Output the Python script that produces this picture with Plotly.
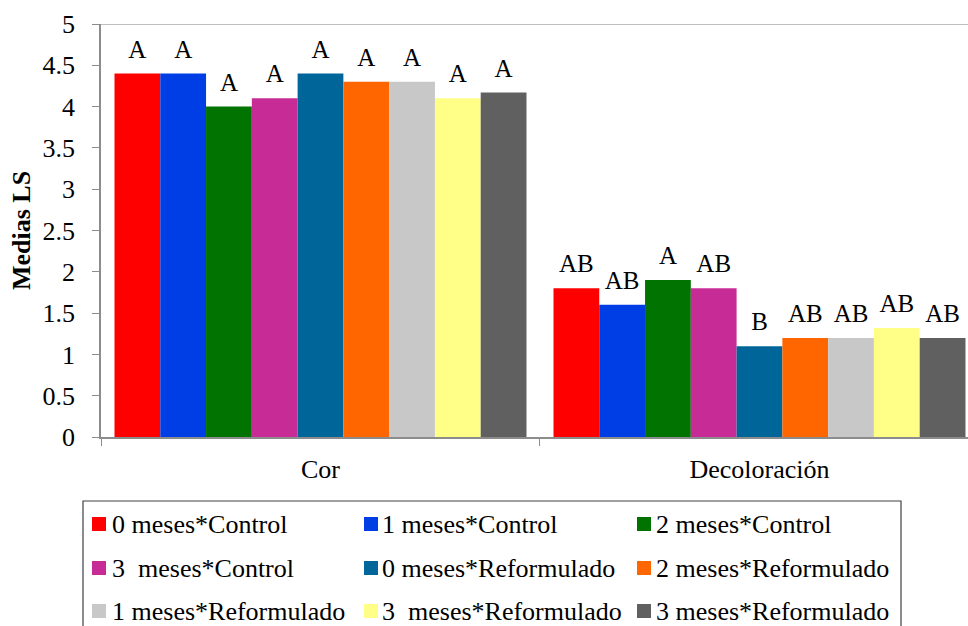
import plotly.graph_objects as go

# ---- data ----
categories = ["Cor", "Decoloración"]
series_names = [
    "0 meses*Control",
    "1 meses*Control",
    "2 meses*Control",
    "3  meses*Control",
    "0 meses*Reformulado",
    "2 meses*Reformulado",
    "1 meses*Reformulado",
    "3  meses*Reformulado",
    "3 meses*Reformulado",
]
series_values = [
    [4.4, 1.8],
    [4.4, 1.6],
    [4.0, 1.9],
    [4.1, 1.8],
    [4.4, 1.1],
    [4.3, 1.2],
    [4.3, 1.2],
    [4.1, 1.32],
    [4.17, 1.2],
]
series_letters = [
    ["A", "AB"],
    ["A", "AB"],
    ["A", "A"],
    ["A", "AB"],
    ["A", "B"],
    ["A", "AB"],
    ["A", "AB"],
    ["A", "AB"],
    ["A", "AB"],
]
series_colors = [
    "#FF0000", "#003EE5", "#007300", "#C72C96", "#006699",
    "#FF6600", "#C8C8C8", "#FFFF88", "#606060",
]
y_tick_vals = [0, 0.5, 1, 1.5, 2, 2.5, 3, 3.5, 4, 4.5, 5]
y_tick_text = ["0", "0.5", "1", "1.5", "2", "2.5", "3", "3.5", "4", "4.5", "5"]

# ---- layout geometry (pixels) ----
W, H = 968, 626
L, R, T, B = 101, 968, 24, 437
FONT = "Liberation Serif"
LABEL_LIFT = 0.095  # blank space (y units) between a bar top and its letter label


def px_x(px):
    return (px - L) / (R - L)


def px_y(py):
    return (B - py) / (B - T)


fig = go.Figure()
for i, (name, vals, letters, color) in enumerate(
        zip(series_names, series_values, series_letters, series_colors)):
    group = f"g{i}"
    fig.add_trace(go.Bar(
        x=categories,
        y=vals,
        name=name,
        offsetgroup=group,
        marker=dict(color=color, line=dict(width=0)),
        showlegend=False,
        hovertemplate=name + "<br>%{x}: %{y}<extra></extra>",
    ))
    # transparent spacer sitting on the bar, carrying the letter label
    fig.add_trace(go.Bar(
        x=categories,
        y=[LABEL_LIFT] * len(vals),
        base=vals,
        offsetgroup=group,
        marker=dict(color="rgba(0,0,0,0)", line=dict(width=0)),
        text=letters,
        textposition="outside",
        constraintext="none",
        cliponaxis=False,
        textfont=dict(family=FONT, size=25, color="black"),
        showlegend=False,
        hoverinfo="skip",
    ))

# legend box drawn as shapes + annotations (3 columns)
shapes = [
    dict(type="line", xref="paper", yref="y", x0=0, x1=1, y0=5, y1=5,
         line=dict(color="#BFBFBF", width=2), layer="below"),
    dict(type="rect", xref="paper", yref="paper",
         x0=px_x(83), x1=px_x(901), y0=px_y(501), y1=px_y(660),
         line=dict(color="#404040", width=1.2), fillcolor="rgba(0,0,0,0)"),
]
annotations = []
col_swatch = [92, 364, 637]
col_text = [110, 380, 654]
row_center = [523, 567, 610]
for i, (name, color) in enumerate(zip(series_names, series_colors)):
    r, c = divmod(i, 3)
    sx, cy = col_swatch[c], row_center[r]
    shapes.append(dict(type="rect", xref="paper", yref="paper",
                       x0=px_x(sx), x1=px_x(sx + 14), y0=px_y(cy - 6), y1=px_y(cy + 8),
                       line=dict(width=0), fillcolor=color))
    annotations.append(dict(
        xref="paper", yref="paper", x=px_x(col_text[c]), y=px_y(cy + 1),
        xanchor="left", yanchor="middle", showarrow=False,
        text=name.replace("  ", "\u00a0 "),
        font=dict(family=FONT, size=26, color="black"),
    ))

fig.update_layout(
    width=W, height=H,
    margin=dict(l=L, r=W - R, t=T, b=H - B, pad=0),
    paper_bgcolor="white", plot_bgcolor="white",
    barmode="group", bargap=0.0615, bargroupgap=0,
    shapes=shapes, annotations=annotations,
    font=dict(family=FONT, size=26, color="black"),
    xaxis=dict(
        type="category", categoryorder="array", categoryarray=categories,
        range=[-0.5, 1.475], tickson="boundaries",
        ticks="outside", ticklen=7, tickcolor="#8C8C8C", tickwidth=1,
        showline=True, linecolor="#8C8C8C", linewidth=1.5,
        showgrid=False, zeroline=False, ticklabelstandoff=8,
        tickfont=dict(family=FONT, size=26, color="black"),
    ),
    yaxis=dict(
        range=[0, 5], tickmode="array", tickvals=y_tick_vals, ticktext=y_tick_text,
        ticks="outside", ticklen=7, tickcolor="#8C8C8C", tickwidth=1,
        showline=True, linecolor="#8C8C8C", linewidth=1.5,
        showgrid=False, zeroline=False, ticklabelstandoff=12,
        tickfont=dict(family=FONT, size=26, color="black"),
        title=dict(text="<b>Medias LS</b>", standoff=4,
                   font=dict(family=FONT, size=26, color="black")),
    ),
)

fig.write_html("out.html")
